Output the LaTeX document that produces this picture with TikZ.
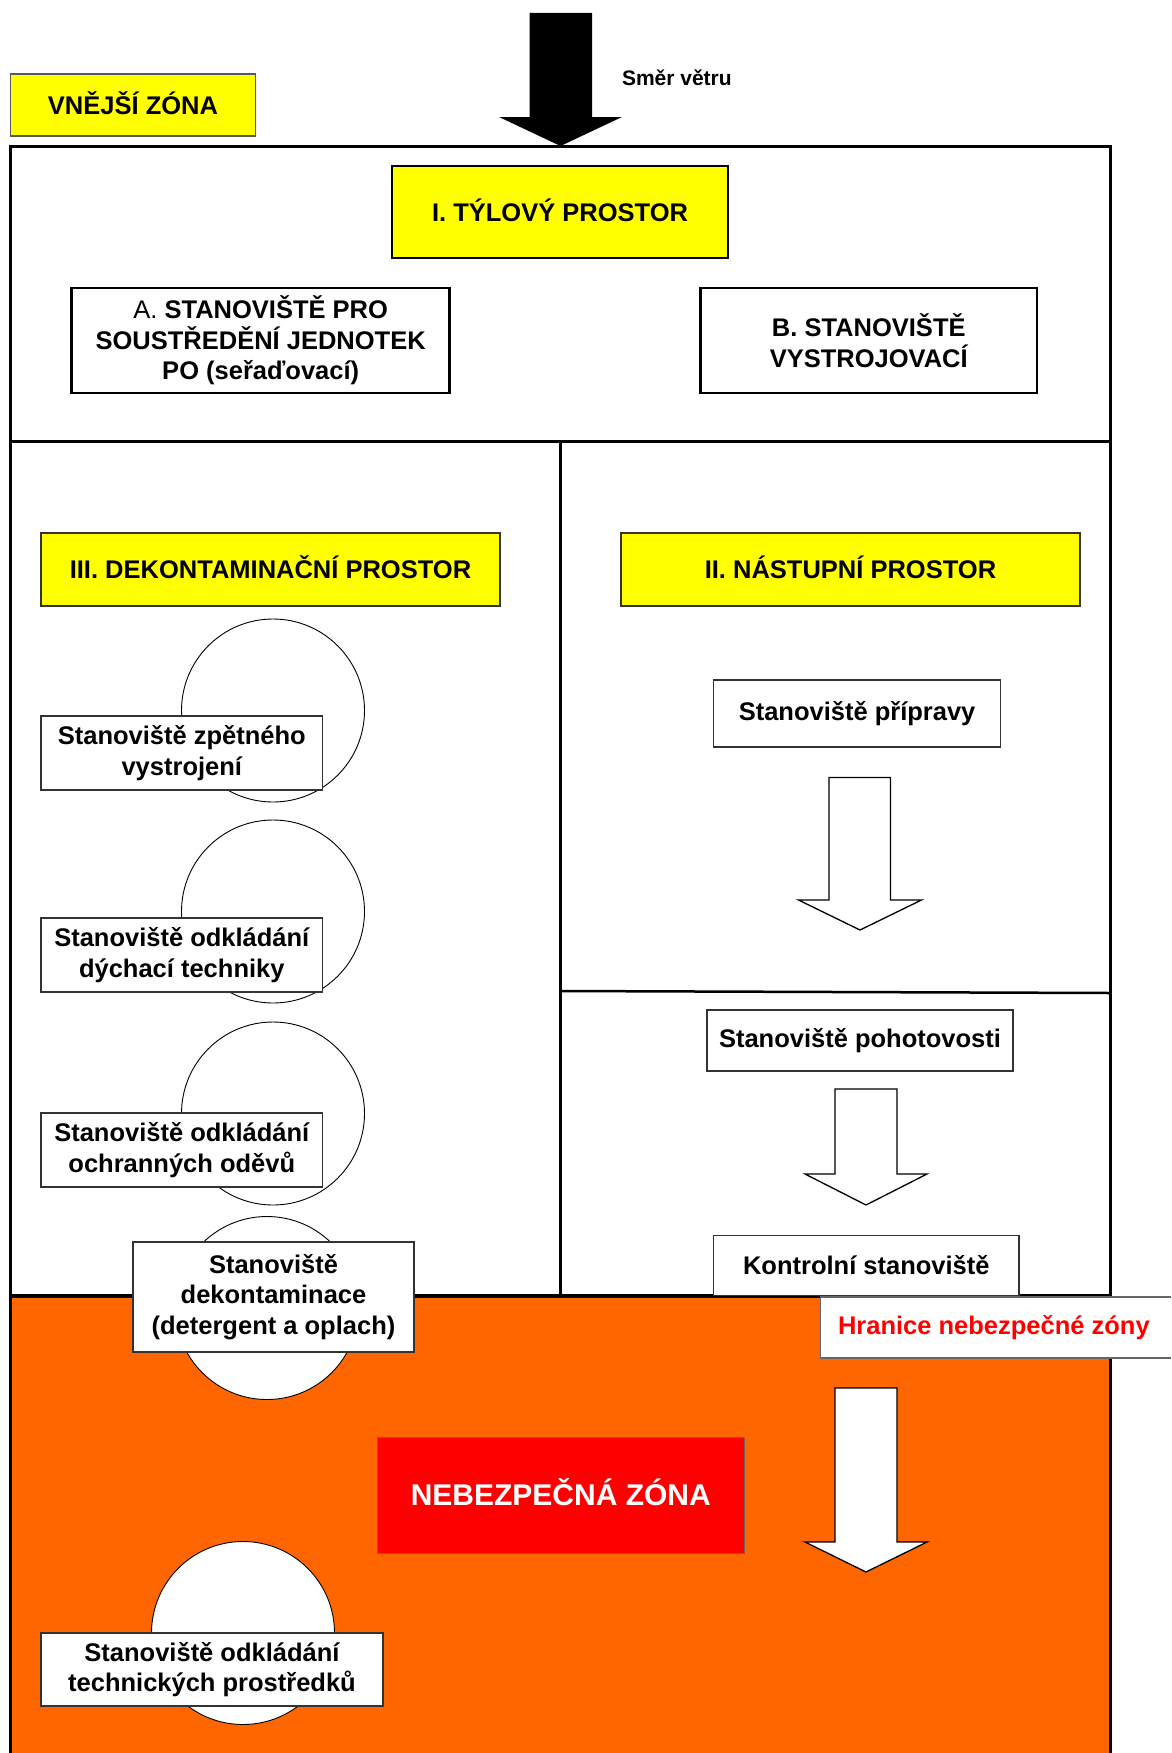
\documentclass[tikz,border=0pt]{standalone}
\usepackage{fontspec}
\setmainfont{Liberation Sans}
\definecolor{zyellow}{RGB}{255,255,0}
\definecolor{zorange}{RGB}{255,102,0}
\definecolor{zred}{RGB}{255,0,0}
\newcommand\myfs[1]{\fontsize{#1}{30.5}\selectfont}
\begin{document}
\begin{tikzpicture}[x=1pt,y=-1pt,
  every node/.style={inner sep=0pt, outer sep=0pt, align=center, font=\bfseries\myfs{25.5}},
  frame/.style={line width=3.5pt, line cap=rect},
  oneline/.style={text height=19pt, text depth=1pt},
  ybox/.style={draw=black!80, fill=zyellow, line width=1.2pt, anchor=north west, oneline},
  tbox/.style={draw=black, fill=white, line width=2.5pt, anchor=north west},
  sbox/.style={draw=black!80, fill=white, line width=1.2pt, anchor=north west},
  circ/.style={circle, draw=black, fill=white, line width=0.9pt, minimum size=183pt},
  harrow/.style={draw=black, fill=white, line width=1.3pt, line join=miter},
]
\useasboundingbox (0,0) rectangle (1171,1753);

% outer zone label
\node[ybox, draw=black!65, line width=1.5pt, minimum width=245pt, minimum height=62pt] (outer) at (10.5,74) {VNĚJŠÍ ZÓNA};

% wind arrow
\fill (529.5,13) -- (592,13) -- (592,117) -- (622,117) -- (560.5,146) -- (499,117) -- (529.5,117) -- cycle;
\node[font=\bfseries\myfs{21}, anchor=west] (wind) at (622,78) {Směr větru};

% danger zone fill
\fill[zorange] (10.5,1296) rectangle (1110.5,1753);

% frame
\draw[frame] (10.5,1753) -- (10.5,146.7) -- (1110.5,146.7) -- (1110.5,1753);
\draw[frame] (10.5,441.5) -- (1110.5,441.5);
\draw[frame] (560.5,441.5) -- (560.5,1296);
\draw[frame, line width=2.5pt] (560.5,991) -- (1110.5,993);
\draw[frame] (10.5,1296) -- (1110.5,1296);

% I. rear area
\node[tbox, oneline, fill=zyellow, minimum width=336pt, minimum height=92pt] (tyl) at (392,166) {I. TÝLOVÝ PROSTOR};
\node[tbox, minimum width=378pt, minimum height=105pt] (a) at (71.7,288) {{\mdseries A.} STANOVIŠTĚ PRO\\SOUSTŘEDĚNÍ JEDNOTEK\\PO (seřaďovací)};
\node[tbox, minimum width=336.5pt, minimum height=105pt] (b) at (700.5,288) {B. STANOVIŠTĚ\\VYSTROJOVACÍ};

% headers
\node[ybox, minimum width=459pt, minimum height=73pt] (dek) at (41,533) {III. DEKONTAMINAČNÍ PROSTOR};
\node[ybox, minimum width=459pt, minimum height=73pt] (nas) at (621,533) {II. NÁSTUPNÍ PROSTOR};

% circles
\node[circ] (c1) at (273,710.5) {};
\node[circ] (c2) at (273,911.5) {};
\node[circ] (c3) at (273,1113.5) {};
\node[circ] (c4) at (267,1308) {};
\node[circ] (c5) at (243,1633) {};

% station boxes (left)
\node[sbox, minimum width=281.6pt, minimum height=74pt] (s1) at (41,716) {Stanoviště zpětného\\vystrojení};
\node[sbox, minimum width=281.6pt, minimum height=74pt] (s2) at (41,918) {Stanoviště odkládání\\dýchací techniky};
\node[sbox, minimum width=281.6pt, minimum height=74pt] (s3) at (41,1113) {Stanoviště odkládání\\ochranných oděvů};
\node[sbox, minimum width=281pt, minimum height=110pt] (s4) at (133,1242) {Stanoviště\\dekontaminace\\(detergent a oplach)};
\node[sbox, minimum width=342pt, minimum height=73pt] (s5) at (41,1633) {Stanoviště odkládání\\technických prostředků};

% station boxes (right)
\node[sbox, minimum width=287pt, minimum height=67pt] (prip) at (713.6,680) {Stanoviště přípravy};
\node[sbox, minimum width=306pt, minimum height=61pt] (poh) at (707,1010) {Stanoviště pohotovosti};
\node[sbox, oneline, minimum width=305.4pt, minimum height=60pt] (kon) at (713.6,1235.7) {Kontrolní stanoviště};

% hollow arrows
\draw[harrow] (829,777.5) -- (890.5,777.5) -- (890.5,900) -- (921.5,900) -- (860,930) -- (798.5,900) -- (829,900) -- cycle;
\draw[harrow] (835,1089) -- (897,1089) -- (897,1174) -- (927,1174) -- (866,1205) -- (805,1174) -- (835,1174) -- cycle;
\draw[harrow] (835,1388) -- (897,1388) -- (897,1542) -- (927,1542) -- (866,1572) -- (805,1542) -- (835,1542) -- cycle;

% border label
\fill[white] (820.5,1297) rectangle (1171,1358);
\draw[black!60, line width=1.2pt] (1171,1297) -- (820.5,1297) -- (820.5,1358) -- (1171,1358);
\node[anchor=west, text=zred] (hr) at (838,1327.5) {Hranice nebezpečné zóny};

% danger zone label
\node[draw=black!60, fill=zred, line width=1pt, minimum width=367.6pt, minimum height=116pt, anchor=north west, text=white, font=\bfseries\myfs{30}, text height=22.5pt, text depth=1pt] (neb) at (377,1437) {NEBEZPEČNÁ ZÓNA};
\end{tikzpicture}
\end{document}
